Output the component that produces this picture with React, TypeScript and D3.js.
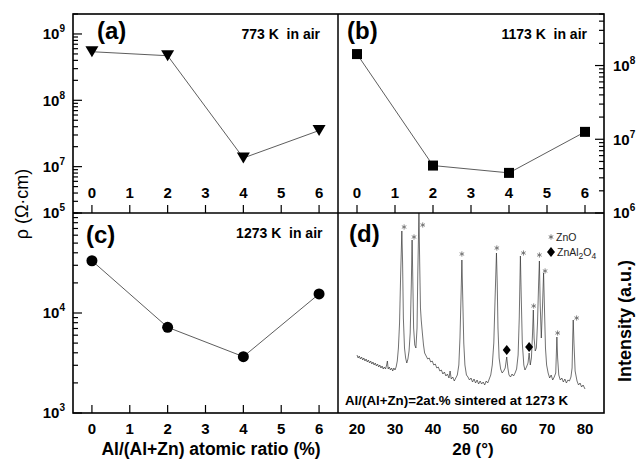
import React from 'react';
import * as d3 from 'd3';

// ---------- data ----------
const ratios = [0, 2, 4, 6];
const rho773K = [5.4e8, 4.7e8, 1.35e7, 3.5e7];
const rho1173K = [1.43e8, 4.4e6, 3.5e6, 1.26e7];
const rho1273K = [3.33e4, 7.2e3, 3.66e3, 1.55e4];
const ratioTicks = [0, 1, 2, 3, 4, 5, 6];
const twoThetaTicks = [20, 30, 40, 50, 60, 70, 80];

// XRD pattern: [2theta (deg), intensity (a.u.)]
const xrdPattern: [number, number][] = [
  [20.0, 58], [20.3, 55], [20.6, 57], [20.9, 54], [21.2, 56], [21.5, 53], [21.8, 55], [22.1, 52],
  [22.4, 54], [22.7, 51], [23.0, 53], [23.3, 50], [23.6, 52], [23.9, 49], [24.2, 51], [24.5, 48],
  [24.8, 50], [25.1, 47], [25.4, 49], [25.7, 46], [26.0, 48], [26.3, 45], [26.6, 47], [26.9, 44],
  [27.2, 46], [27.5, 44], [27.8, 48], [28.0, 52], [28.2, 44], [28.5, 46], [28.8, 43], [29.1, 45],
  [29.4, 42], [29.7, 45], [30.0, 43], [30.3, 46], [30.6, 52], [30.9, 65], [31.2, 90], [31.5, 140],
  [31.8, 182], [32.0, 150], [32.2, 95], [32.5, 65], [32.8, 55], [33.1, 50], [33.4, 54], [33.7, 62],
  [34.0, 80], [34.3, 130], [34.5, 173], [34.7, 130], [34.9, 85], [35.2, 68], [35.5, 65], [35.8, 85],
  [36.0, 140], [36.3, 200], [36.5, 150], [36.7, 105], [36.9, 93], [37.2, 80], [37.5, 68], [37.8, 60],
  [38.2, 57], [38.6, 54], [39.0, 55], [39.4, 51], [39.8, 52], [40.2, 48], [40.6, 49], [41.0, 45],
  [41.4, 46], [41.8, 42], [42.2, 43], [42.6, 39], [43.0, 41], [43.4, 37], [43.8, 39], [44.2, 35],
  [44.5, 42], [44.8, 34], [45.2, 36], [45.6, 32], [46.0, 35], [46.4, 38], [46.8, 48], [47.1, 75],
  [47.4, 120], [47.6, 153], [47.8, 120], [48.1, 70], [48.4, 48], [48.8, 38], [49.2, 36], [49.6, 33],
  [50.0, 35], [50.4, 31], [50.8, 34], [51.2, 30], [51.6, 33], [52.0, 29], [52.4, 32], [52.8, 29],
  [53.2, 31], [53.6, 28], [54.0, 32], [54.4, 30], [54.8, 34], [55.2, 38], [55.6, 48], [56.0, 70],
  [56.3, 110], [56.7, 160], [56.9, 130], [57.1, 85], [57.4, 55], [57.8, 44], [58.2, 40], [58.6, 42],
  [59.0, 45], [59.4, 56], [59.7, 45], [60.0, 38], [60.4, 36], [60.8, 39], [61.2, 37], [61.6, 40],
  [62.0, 44], [62.4, 58], [62.7, 95], [63.0, 157], [63.2, 120], [63.5, 70], [63.9, 48], [64.2, 43],
  [64.6, 46], [65.0, 50], [65.3, 60], [65.6, 48], [65.9, 55], [66.2, 80], [66.4, 103], [66.6, 75],
  [66.9, 62], [67.2, 65], [67.5, 90], [67.8, 130], [68.0, 152], [68.2, 110], [68.5, 75], [68.8, 105],
  [69.1, 140], [69.3, 110], [69.6, 65], [69.9, 48], [70.3, 40], [70.7, 35], [71.1, 38], [71.5, 33],
  [71.9, 36], [72.3, 40], [72.6, 76], [72.8, 55], [73.1, 38], [73.5, 33], [73.9, 35], [74.3, 31],
  [74.7, 34], [75.1, 30], [75.5, 33], [75.9, 32], [76.3, 36], [76.6, 45], [76.8, 80], [76.9, 93],
  [77.1, 70], [77.4, 42], [77.9, 32], [78.3, 28], [78.7, 30], [79.1, 26], [79.5, 28], [80.0, 24],
];
// asterisk marks (ZnO) and diamond marks (ZnAl2O4): [2theta, intensity]
const znoMarks: [number, number][] = [
  [32.4, 186], [35.0, 176], [37.3, 188], [47.6, 159], [56.8, 165], [63.8, 160],
  [66.5, 107], [68.0, 158], [69.5, 142], [72.8, 80], [77.8, 95],
];
const spinelMarks: [number, number][] = [[59.4, 63], [65.3, 66]];

// ---------- layout ----------
const W = 638, H = 459;
const L = 73, R = 604, T = 14, B = 413, MX = 338, MY = 213;
const FONT = "'Liberation Sans', Arial, Helvetica, sans-serif";

const isMajor = (v: number) => Math.abs(Math.log10(v) - Math.round(Math.log10(v))) < 1e-6;

function LogAxis({ scale, x, dir, labels, labelX, anchor }: any) {
  const [d0, d1] = scale.domain();
  const ticks = scale.ticks().filter((v: number) => v >= d0 * 0.999 && v <= d1 * 1.001);
  return (
    <g>
      {ticks.map((v: number, i: number) => (
        <line key={i} x1={x} x2={x + dir * (isMajor(v) ? 9 : 5)} y1={scale(v)} y2={scale(v)}
          stroke="#000" strokeWidth={1.2} />
      ))}
      {labels.map((v: number, i: number) => (
        <text key={'l' + i} x={labelX} y={scale(v) + 5.3} textAnchor={anchor} fontFamily={FONT}
          fontWeight="bold" fontSize={15}>
          10<tspan dy={-7} fontSize={10}>{Math.round(Math.log10(v))}</tspan>
        </text>
      ))}
    </g>
  );
}

function RatioAxis({ scale, y, labelY }: any) {
  return (
    <g>
      {ratioTicks.map((t) => (
        <g key={t}>
          <line x1={scale(t)} x2={scale(t)} y1={y} y2={y - 8} stroke="#000" strokeWidth={1.2} />
          <text x={scale(t)} y={labelY} textAnchor="middle" fontFamily={FONT} fontWeight="bold" fontSize={15}>{t}</text>
        </g>
      ))}
    </g>
  );
}

function Series({ xs, ys, values, marker }: any) {
  const line = d3.line<number>().x((_, i) => xs(ratios[i])).y((v) => ys(v));
  return (
    <g>
      <path d={line(values) || ''} fill="none" stroke="#333" strokeWidth={0.8} />
      {values.map((v: number, i: number) => {
        const cx = xs(ratios[i]);
        const cy = ys(v);
        if (marker === 'tri')
          return <path key={i} d={`M${cx - 6.5},${cy - 5.5}L${cx + 6.5},${cy - 5.5}L${cx},${cy + 5.5}Z`} fill="#000" />;
        if (marker === 'sq')
          return <rect key={i} x={cx - 5} y={cy - 5} width={10} height={10} fill="#000" />;
        return <circle key={i} cx={cx} cy={cy} r={5.5} fill="#000" />;
      })}
    </g>
  );
}

const diamond = (cx: number, cy: number) =>
  `M${cx},${cy - 5}L${cx + 4},${cy}L${cx},${cy + 5}L${cx - 4},${cy}Z`;

const asterisk = (cx: number, cy: number, r = 2.6) => {
  let d = '';
  for (const a of [90, 30, 150]) {
    const dx = r * Math.cos((a * Math.PI) / 180);
    const dy = r * Math.sin((a * Math.PI) / 180);
    d += `M${cx - dx},${cy - dy}L${cx + dx},${cy + dy}`;
  }
  return d;
};

export default function App() {
  const xA = d3.scaleLinear().domain([-0.5, 6.5]).range([L, MX]);
  const xB = d3.scaleLinear().domain([-0.5, 6.5]).range([MX, R]);
  const xD = d3.scaleLinear().domain([15, 85]).range([MX, R]);
  const yA = d3.scaleLog().domain([2e6, 2e9]).range([MY, T]);
  const yB = d3.scaleLog().domain([1e6, 5e8]).range([MY, T]);
  const yC = d3.scaleLog().domain([1e3, 1e5]).range([B, MY]);
  const yD = d3.scaleLinear().domain([0, 200]).range([B, MY]);

  const xrdLine = d3.line<[number, number]>().x((d) => xD(d[0])).y((d) => yD(d[1]));

  return (
    <svg width={W} height={H} style={{ position: 'absolute', left: 0, top: 0, background: '#fff' }}>
      <rect x={0} y={0} width={W} height={H} fill="#fff" />
      {/* axes ticks */}
      <LogAxis scale={yA} x={L} dir={1} labels={[1e7, 1e8, 1e9]} labelX={65} anchor="end" />
      <LogAxis scale={yC} x={L} dir={1} labels={[1e3, 1e4, 1e5]} labelX={65} anchor="end" />
      <LogAxis scale={yB} x={R} dir={-1} labels={[1e6, 1e7, 1e8]} labelX={613} anchor="start" />
      <RatioAxis scale={xA} y={MY} labelY={197.5} />
      <RatioAxis scale={xB} y={MY} labelY={197.5} />
      <RatioAxis scale={xA} y={B} labelY={433.5} />
      {twoThetaTicks.map((t) => (
        <text key={t} x={xD(t)} y={433.5} textAnchor="middle" fontFamily={FONT} fontWeight="bold" fontSize={15}>{t}</text>
      ))}

      {/* series */}
      <Series xs={xA} ys={yA} values={rho773K} marker="tri" />
      <Series xs={xB} ys={yB} values={rho1173K} marker="sq" />
      <Series xs={xA} ys={yC} values={rho1273K} marker="circ" />

      {/* XRD */}
      <path d={xrdLine(xrdPattern) || ''} fill="none" stroke="#333" strokeWidth={0.7} />
      {znoMarks.map((d, i) => (
        <path key={i} d={asterisk(xD(d[0]), yD(d[1]))} stroke="#666" strokeWidth={0.8} fill="none" />
      ))}
      {spinelMarks.map((d, i) => (
        <path key={i} d={diamond(xD(d[0]), yD(d[1]))} fill="#000" />
      ))}
      {/* legend */}
      <path d={asterisk(551, 237)} stroke="#555" strokeWidth={0.8} fill="none" />
      <text x={556} y={240.5} fontFamily={FONT} fontSize={10.5} fill="#222">ZnO</text>
      <path d={diamond(551, 252)} fill="#000" />
      <text x={557} y={256} fontFamily={FONT} fontSize={10.5} fill="#222">
        ZnAl<tspan dy={3} fontSize={8.5}>2</tspan><tspan dy={-3}>O</tspan><tspan dy={3} fontSize={8.5}>4</tspan>
      </text>
      <text x={345} y={405} fontFamily={FONT} fontWeight="bold" fontSize={13.3}>Al/(Al+Zn)=2at.% sintered at 1273 K</text>

      {/* frame */}
      <rect x={L} y={T} width={R - L} height={B - T} fill="none" stroke="#000" strokeWidth={1.6} />
      <line x1={MX} x2={MX} y1={T} y2={B} stroke="#000" strokeWidth={1.5} />
      <line x1={L} x2={R} y1={MY} y2={MY} stroke="#000" strokeWidth={1.5} />

      {/* panel labels */}
      <text x={97} y={39} fontFamily={FONT} fontWeight="bold" fontSize={24}>(a)</text>
      <text x={347} y={39} fontFamily={FONT} fontWeight="bold" fontSize={24}>(b)</text>
      <text x={86} y={242.5} fontFamily={FONT} fontWeight="bold" fontSize={24}>(c)</text>
      <text x={349} y={241.5} fontFamily={FONT} fontWeight="bold" fontSize={24}>(d)</text>
      <text x={320} y={39.3} textAnchor="end" fontFamily={FONT} fontWeight="bold" fontSize={14} xmlSpace="preserve">773 K  in air</text>
      <text x={587} y={38.5} textAnchor="end" fontFamily={FONT} fontWeight="bold" fontSize={14} xmlSpace="preserve">1173 K  in air</text>
      <text x={322.5} y={237.5} textAnchor="end" fontFamily={FONT} fontWeight="bold" fontSize={14} xmlSpace="preserve">1273 K  in air</text>

      {/* axis titles */}
      <text transform="translate(28,204) rotate(-90)" textAnchor="middle" fontFamily={FONT} fontSize={18}>ρ (Ω·cm)</text>
      <text x={211} y={455} textAnchor="middle" fontFamily={FONT} fontWeight="bold" fontSize={17.5}>Al/(Al+Zn) atomic ratio (%)</text>
      <text x={473} y={455} textAnchor="middle" fontFamily={FONT} fontWeight="bold" fontSize={17}>2θ (°)</text>
      <text transform="translate(631,321) rotate(-90)" textAnchor="middle" fontFamily={FONT} fontWeight="bold" fontSize={18}>Intensity (a.u.)</text>
    </svg>
  );
}
